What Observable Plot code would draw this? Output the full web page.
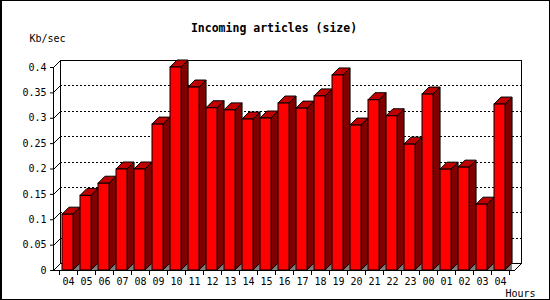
<!DOCTYPE html>
<html><head><meta charset="utf-8">
<script src="https://cdn.jsdelivr.net/npm/d3@7"></script>
<script src="https://cdn.jsdelivr.net/npm/@observablehq/plot@0.6"></script>
<style>html,body{margin:0;padding:0;background:#fff}svg{display:block}</style>
</head><body><div id="chart"></div>
<script>
const hours = ["04","05","06","07","08","09","10","11","12","13","14","15","16","17","18","19","20","21","22","23","00","01","02","03","04"];
const values = [0.110,0.147,0.171,0.199,0.199,0.2875,0.400,0.3605,0.3197,0.3155,0.2975,0.2995,0.329,0.319,0.343,0.3843,0.2856,0.3355,0.3039,0.248,0.3467,0.1987,0.2027,0.1297,0.327];
const yTicks = [0,0.05,0.1,0.15,0.2,0.25,0.3,0.35,0.4];
const titleText = "Incoming articles (size)";
const yLabel = "Kb/sec";
const xLabel = "Hours";

const data = hours.map((h, i) => ({i, h, v: values[i]}));
const D = 7;          // 3D depth in px
const INS_L = 3, INS_R = 3.94;
const FONT = "DejaVu Sans Mono";

function bandInfo(x, n, dim) {
  const bw = typeof x.bandwidth === "function" ? x.bandwidth() : (dim.width - dim.marginLeft - dim.marginRight) / n;
  return bw;
}

function frameBorder(index, scales, vals, dim) {
  const g = d3.create("svg:g");
  g.append("rect").attr("x", 0.5).attr("y", 0.5).attr("width", dim.width - 1).attr("height", dim.height - 1)
    .attr("fill", "none").attr("stroke", "black").attr("shape-rendering", "crispEdges");
  g.append("line").attr("x1", 1.5).attr("x2", 1.5).attr("y1", 0).attr("y2", dim.height)
    .attr("stroke", "black").attr("shape-rendering", "crispEdges");
  return g.node();
}

function backdrop(index, scales, vals, dim) {
  const {y} = scales;
  const x0 = dim.marginLeft, x1 = dim.width - dim.marginRight;
  const y0 = y(0), yTop = y(yTicks[yTicks.length - 1]);
  const g = d3.create("svg:g").attr("stroke", "black").attr("fill", "none");
  // back panel
  g.append("rect").attr("x", x0 + D + 0.5).attr("y", Math.round(yTop - D) + 0.5)
    .attr("width", x1 - x0).attr("height", y0 - yTop)
    .attr("fill", "white").attr("shape-rendering", "crispEdges");
  // dotted gridlines on the back panel
  for (const v of yTicks.slice(1, -1)) {
    const yy = Math.round(y(v) - D) + 0.5;
    g.append("line").attr("x1", x0 + D).attr("x2", x1 + D).attr("y1", yy).attr("y2", yy)
      .attr("stroke-dasharray", "2,2").attr("shape-rendering", "crispEdges");
  }
  // slashes from front axis to back panel
  for (const v of yTicks) {
    const yy = Math.round(y(v)) + 0.5;
    g.append("line").attr("x1", x0 + 0.5).attr("y1", yy).attr("x2", x0 + D + 0.5).attr("y2", yy - D);
  }
  // bottom-right diagonal
  g.append("line").attr("x1", x1 + 0.5).attr("y1", Math.round(y0) + 0.5).attr("x2", x1 + D + 0.5).attr("y2", Math.round(y0) + 0.5 - D);
  return g.node();
}

function bars3d(index, scales, vals, dim) {
  const {x, y} = scales;
  const bw = bandInfo(x, hours.length, dim);
  const y0 = y(0);
  const g = d3.create("svg:g").attr("stroke", "black").attr("stroke-linejoin", "miter");
  for (const d of data) {
    const fx0 = x(d.i) + INS_L, fx1 = x(d.i) + bw - INS_R;
    const yv = y(d.v);
    const P = pts => pts.map(p => p.join(",")).join(" ");
    g.append("polygon").attr("points", P([[fx1, y0], [fx1 + D, y0 - D], [fx1 + D, y0]]))
      .attr("fill", "#808080").attr("stroke", "none");
    g.append("polygon").attr("points", P([[fx1, yv], [fx1 + D, yv - D], [fx1 + D, y0 - D], [fx1, y0]]))
      .attr("fill", "#800000");
    g.append("polygon").attr("points", P([[fx0, yv], [fx1, yv], [fx1 + D, yv - D], [fx0 + D, yv - D]]))
      .attr("fill", "#c00000");
  }
  return g.node();
}

function axesLines(index, scales, vals, dim) {
  const {x, y} = scales;
  const bw = bandInfo(x, hours.length, dim);
  const x0 = dim.marginLeft, x1 = dim.width - dim.marginRight;
  const y0 = Math.round(y(0)) + 0.5, yTop = Math.round(y(yTicks[yTicks.length - 1]));
  const g = d3.create("svg:g").attr("stroke", "black").attr("shape-rendering", "crispEdges");
  g.append("line").attr("x1", x0 + 0.5).attr("x2", x0 + 0.5).attr("y1", yTop).attr("y2", y0);
  g.append("line").attr("x1", x0).attr("x2", x1 + 1).attr("y1", y0).attr("y2", y0);
  for (let i = 0; i <= hours.length; i++) {
    const xx = Math.round(i < hours.length ? x(i) : x(hours.length - 1) + bw) + 0.5;
    g.append("line").attr("x1", xx).attr("x2", xx).attr("y1", y0).attr("y2", y0 + 4);
  }
  return g.node();
}

const chart = Plot.plot({
  width: 550,
  height: 300,
  marginLeft: 53,
  marginRight: 36,
  marginTop: 67,
  marginBottom: 30,
  style: {fontFamily: FONT, fontSize: "10px", background: "white", color: "black"},
  x: {type: "band", domain: d3.range(hours.length), padding: 0, tickFormat: i => hours[i], tickSize: 0, tickPadding: 7, label: null},
  y: {domain: [0, 0.4], ticks: yTicks, tickFormat: d => d3.format("~g")(d), tickSize: 3, tickPadding: 4, label: null},
  marks: [
    frameBorder,
    backdrop,
    bars3d,
    Plot.barY(data, {x: "i", y: "v", fill: "#ff0000", stroke: "black", insetLeft: INS_L, insetRight: INS_R}),
    axesLines,
    Plot.text([titleText], {text: d => d, frameAnchor: "top", dx: -10, dy: -36, textAnchor: "middle", lineAnchor: "bottom", fontFamily: FONT, fontWeight: "bold", fontSize: 11.5, fill: "black"}),
    Plot.text([yLabel], {text: d => d, frameAnchor: "top-left", dx: -24, dy: -26, textAnchor: "start", lineAnchor: "bottom", fontFamily: FONT, fontSize: 10, fill: "black"}),
    Plot.text([xLabel], {text: d => d, frameAnchor: "bottom-right", dx: -9, dy: 26, textAnchor: "start", lineAnchor: "bottom", fontFamily: FONT, fontSize: 10, fill: "black"})
  ]
});
document.getElementById("chart").append(chart);
</script>
</body></html>
